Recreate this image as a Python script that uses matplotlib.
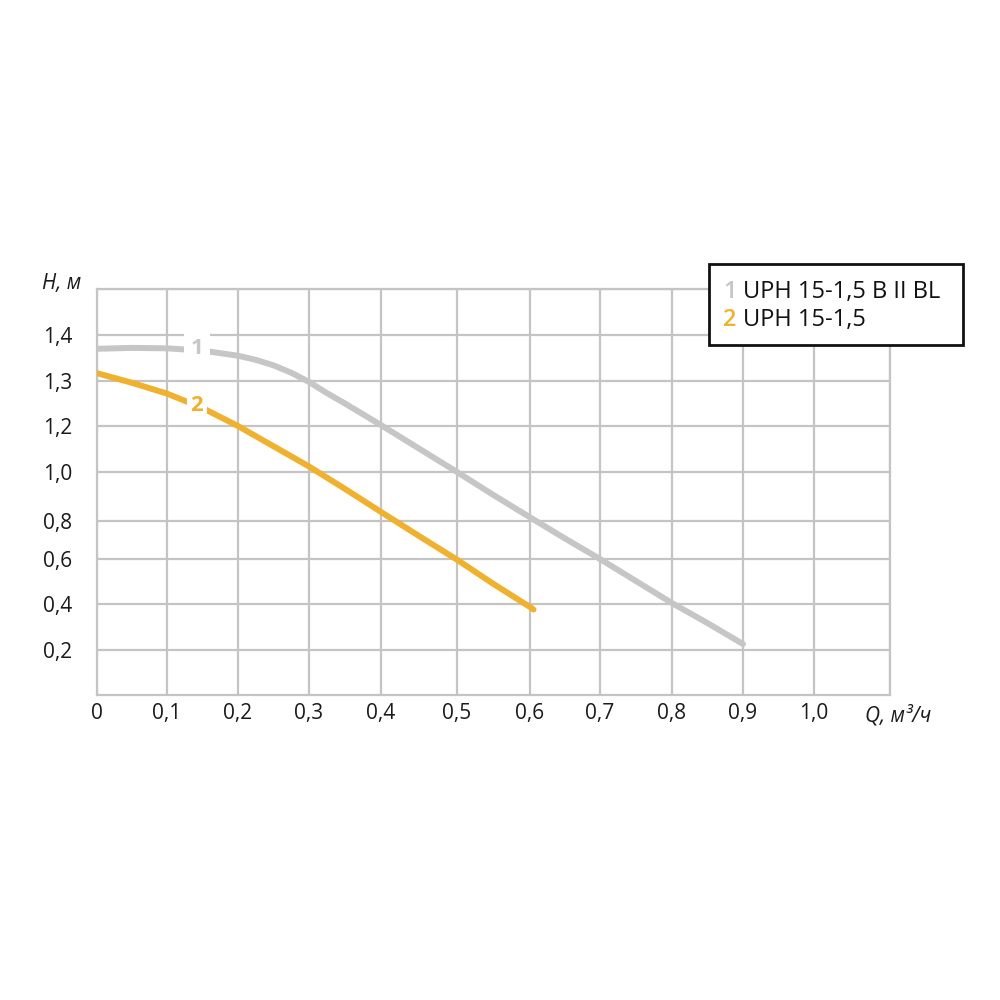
import matplotlib
matplotlib.use('Agg')
import matplotlib.pyplot as plt
from matplotlib.patches import Rectangle
import numpy as np

plt.rcParams['font.family'] = ['Open Sans', 'DejaVu Sans']

# grid values and where they sit in the original drawing (pixels from the axis origin)
x_grid = [0.0, 0.1, 0.2, 0.3, 0.4, 0.5, 0.6, 0.7, 0.8, 0.9, 1.0, 1.1]
x_grid_pos = [0, 70, 141, 212, 284, 360, 433, 503, 575, 646, 717, 793]
y_grid = [0.0, 0.2, 0.4, 0.6, 0.8, 1.0, 1.2, 1.3, 1.4, 1.5]
y_grid_pos = [0, 45, 91, 136, 174, 223, 269, 314, 360, 406]

x_ticks = [0.0, 0.1, 0.2, 0.3, 0.4, 0.5, 0.6, 0.7, 0.8, 0.9, 1.0]
x_labels = ['0', '0,1', '0,2', '0,3', '0,4', '0,5', '0,6', '0,7', '0,8', '0,9', '1,0']
y_ticks = [0.2, 0.4, 0.6, 0.8, 1.0, 1.2, 1.3, 1.4]
y_labels = ['0,2', '0,4', '0,6', '0,8', '1,0', '1,2', '1,3', '1,4']

# pump curves: flow Q (m3/h) vs head H (m)
q1 = [0.0, 0.05, 0.10, 0.15, 0.20, 0.225, 0.25, 0.275, 0.30, 0.325, 0.35, 0.40,
      0.45, 0.50, 0.55, 0.60, 0.65, 0.70, 0.75, 0.80, 0.85, 0.90]
h1 = [1.370, 1.372, 1.371, 1.366, 1.355, 1.346, 1.334, 1.318, 1.298, 1.273, 1.250, 1.202,
      1.102, 1.000, 0.906, 0.815, 0.708, 0.600, 0.502, 0.404, 0.317, 0.226]
q2 = [0.0, 0.05, 0.10, 0.15, 0.20, 0.25, 0.30, 0.35, 0.40, 0.45, 0.50, 0.55, 0.60, 0.605]
h2 = [1.317, 1.296, 1.272, 1.240, 1.200, 1.112, 1.024, 0.931, 0.837, 0.721, 0.597,
      0.489, 0.387, 0.376]

names = ['UPH 15-1,5 B II BL', 'UPH 15-1,5']
colors = ['#c6c6c6', '#f0b12e']
grid_color = '#c4c4c4'
text_color = '#1a1a1a'


def fwd_x(v):
    return np.interp(v, x_grid, x_grid_pos)


def inv_x(p):
    return np.interp(p, x_grid_pos, x_grid)


def fwd_y(v):
    return np.interp(v, y_grid, y_grid_pos)


def inv_y(p):
    return np.interp(p, y_grid_pos, y_grid)


fig = plt.figure(figsize=(10, 10), dpi=100)
ax = fig.add_axes([0.097, 0.305, 0.793, 0.406])
ax.set_xscale('function', functions=(fwd_x, inv_x))
ax.set_yscale('function', functions=(fwd_y, inv_y))
ax.set_xlim(0, 1.1)
ax.set_ylim(0, 1.5)

ax.set_xticks(x_ticks)
ax.set_xticklabels(x_labels)
ax.set_yticks(y_ticks)
ax.set_yticklabels(y_labels)
ax.set_xticks([1.1], minor=True)
ax.set_yticks([1.5], minor=True)
ax.tick_params(which='both', length=0, labelsize=15, colors=text_color)
ax.tick_params(axis='x', pad=6)
ax.tick_params(axis='y', pad=18)
ax.grid(True, which='both', color=grid_color, lw=1.6)
for s in ax.spines.values():
    s.set_color(grid_color)
    s.set_linewidth(1.6)

ax.plot(q1, h1, color=colors[0], lw=4.3, solid_capstyle='round', zorder=3)
ax.plot(q2, h2, color=colors[1], lw=4.3, solid_capstyle='round', zorder=3)

ax.text(0.142, 1.37, '1', color=colors[0], fontsize=16, fontweight='bold',
        ha='center', va='center', zorder=5,
        bbox=dict(facecolor='white', edgecolor='none', boxstyle='square,pad=0.3'))
ax.text(0.142, 1.245, '2', color=colors[1], fontsize=16, fontweight='bold',
        ha='center', va='center', zorder=5,
        bbox=dict(facecolor='white', edgecolor='none', boxstyle='square,pad=0.15'))

fig.text(0.062, 0.717, 'H, м', fontsize=15, style='italic', ha='center', va='center',
         color=text_color)
fig.text(0.865, 0.284, 'Q, м³/ч', fontsize=15, style='italic', ha='left', va='center',
         color=text_color)

# legend box
fig.patches.append(Rectangle((0.709, 0.655), 0.254, 0.081, transform=fig.transFigure,
                             facecolor='white', edgecolor='#111111', lw=2))
for i, (name, c) in enumerate(zip(names, colors)):
    y = 0.708 - i * 0.028
    fig.text(0.723, y, str(i + 1), color=c, fontsize=17, fontweight='semibold',
             ha='left', va='center')
    fig.text(0.743, y, name, color='#111111', fontsize=17, ha='left', va='center')

fig.savefig('out.png', dpi=100, facecolor='white')
